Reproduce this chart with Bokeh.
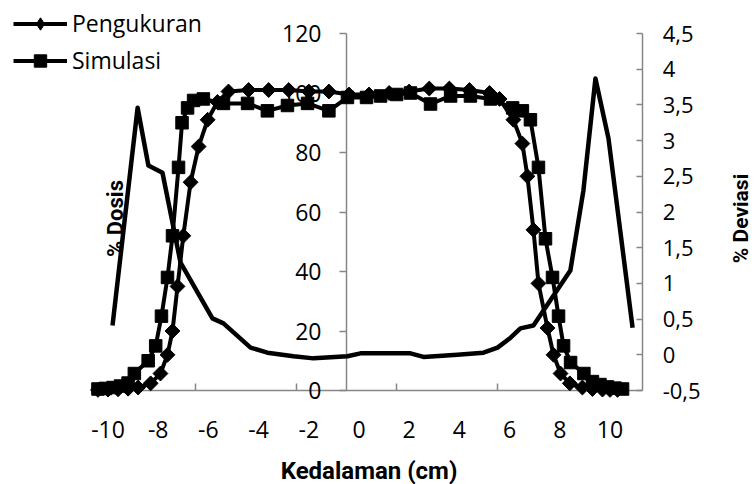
import math
from bokeh.plotting import figure
from bokeh.models import Range1d, LinearAxis, FixedTicker, Legend, LegendItem, Label
from bokeh.embed import file_html
from bokeh.resources import INLINE

# ---- data ----
peng_x = [-10.4, -10.0, -9.6, -9.2, -8.8, -8.3, -7.91, -7.63, -7.43, -7.23, -7.0, -6.71, -6.39,
          -6.03, -5.64, -5.2, -4.4, -3.6, -2.8, -2.0, -1.2, -0.4, 0.4, 1.2, 2.0, 2.8, 3.6, 4.4,
          5.2, 5.6, 6.15, 6.51, 6.71, 6.95, 7.15, 7.51, 7.75, 8.03, 8.4, 8.9, 9.3, 9.7, 10.0, 10.3]
peng_y = [0.2, 0.3, 0.4, 0.6, 1.0, 2.4, 5.7, 12, 20, 35, 52, 70, 82,
          91, 97, 100.5, 101, 101, 101, 100.5, 100.5, 99.5, 99.5, 100, 100.5, 101.5, 101.5, 101,
          100, 98, 91, 83, 72, 54, 36, 21, 12, 5.7, 2.4, 1.0, 0.5, 0.3, 0.2, 0.2]

sim_x = [-10.4, -10.1, -9.8, -9.5, -9.2, -8.95, -8.4, -8.1, -7.87, -7.63, -7.43, -7.19, -7.05,
         -6.83, -6.59, -6.2, -5.4, -4.44, -3.65, -2.85, -2.05, -1.2, -0.46, 0.3, 0.86, 1.5, 2.05,
         2.85, 3.65, 4.44, 5.24, 6.12, 6.51, 6.83, 7.15, 7.43, 7.71, 7.95, 8.15, 8.43, 8.96, 9.3,
         9.6, 9.9, 10.2, 10.5]
sim_y = [0.5, 0.7, 1.0, 1.5, 2.5, 5.7, 10, 15, 25, 38, 52, 75, 90,
         95, 97.5, 98, 96.5, 96.5, 94, 95.8, 96.5, 94, 98.5, 98.5, 99, 99.5, 100,
         96.3, 99, 99, 98, 95, 94, 91, 75, 51, 38, 25, 15, 9.4, 5.7, 3,
         2, 1.2, 0.8, 0.5]

dev_x = [-9.82, -8.82, -8.39, -7.83, -7.11, -5.84, -5.40, -4.32, -3.65, -2.61, -1.81, -0.46, 0.06,
         2.05, 2.57, 3.92, 4.96, 5.52, 6.04, 6.43, 6.95, 8.42, 8.94, 9.42, 9.94, 10.90]
dev_y = [0.41, 3.46, 2.65, 2.55, 1.29, 0.51, 0.44, 0.10, 0.03, -0.02, -0.05, -0.02, 0.02,
         0.02, -0.03, 0.00, 0.03, 0.10, 0.24, 0.37, 0.41, 1.18, 2.30, 3.87, 3.03, 0.38]

x_ticks = [-10, -8, -6, -4, -2, 0, 2, 4, 6, 8, 10]
x_tick_labels = ["-10", "-8", "-6", "-4", "-2", "0", "2", "4", "6", "8", "10"]
x_tick_marks = [-10.5, -6.5, -2.5, 1.5, 5.5, 9.5]
dose_ticks = [0, 20, 40, 60, 80, 100, 120]
dev_ticks = [-0.5, 0, 0.5, 1, 1.5, 2, 2.5, 3, 3.5, 4, 4.5]
dev_tick_labels = ["-0,5", "0", "0,5", "1", "1,5", "2", "2,5", "3", "3,5", "4", "4,5"]

series_names = ["Pengukuran", "Simulasi"]
x_title = "Kedalaman (cm)"
dose_title = "% Dosis"
dev_title = "% Deviasi"

# ---- layout: the frame fills the whole canvas, axes are placed at fixed locations ----
W, H = 755, 484
PX0, SX = 358.5, 25.1          # pixel of x=0, pixels per cm
PY0, SY = 390.0, 2.975         # pixel of dose 0, pixels per %
PD0, SD = 354.3, 71.4          # pixel of deviation 0, pixels per unit
X_AXIS_LEFT, X_AXIS_RIGHT = -10.5, 11.3
Y_CROSS = -0.5

AX = "#868686"
FONT = "Open Sans"
TFONT = "Roboto"
FS = "23px"

p = figure(width=W, height=H, output_backend="svg", toolbar_location=None,
           x_range=Range1d(-PX0 / SX, (W - PX0) / SX),
           y_range=Range1d(-(H - PY0) / SY, PY0 / SY),
           x_axis_location=None, y_axis_location=None,
           min_border_left=0, min_border_right=0, min_border_top=0, min_border_bottom=0)
p.grid.visible = False
p.outline_line_color = None
p.background_fill_color = "white"
p.border_fill_color = "white"
p.extra_y_ranges = {"dev": Range1d(-(H - PD0) / SD, PD0 / SD)}

# left (dose) axis crossing the x axis at -0.5
ax_left = LinearAxis(fixed_location=Y_CROSS, ticker=FixedTicker(ticks=dose_ticks), bounds=(0, 120),
                     major_tick_out=7, major_tick_in=0, minor_tick_out=0, minor_tick_in=0,
                     axis_line_color=AX, axis_line_width=1.5, major_tick_line_color=AX,
                     major_tick_line_width=1.5,
                     major_label_text_font=FONT, major_label_text_font_size=FS,
                     major_label_text_color="black", major_label_standoff=18)
ax_left.level = "underlay"
p.add_layout(ax_left, "left")

# x axis
ax_x = LinearAxis(fixed_location=0, ticker=FixedTicker(ticks=x_ticks, minor_ticks=x_tick_marks),
                  bounds=(X_AXIS_LEFT, X_AXIS_RIGHT),
                  major_label_overrides={t: l for t, l in zip(x_ticks, x_tick_labels)},
                  major_tick_in=0, major_tick_out=0, minor_tick_in=7, minor_tick_out=0,
                  axis_line_color=AX, axis_line_width=1.5, minor_tick_line_color=AX,
                  minor_tick_line_width=1.5,
                  major_label_text_font=FONT, major_label_text_font_size=FS,
                  major_label_text_color="black", major_label_standoff=30,
                  axis_label=x_title, axis_label_text_font=TFONT,
                  axis_label_text_font_style="bold", axis_label_text_font_size="24px",
                  axis_label_text_color="black", axis_label_standoff=16)
ax_x.level = "underlay"
p.add_layout(ax_x, "below")

# right (deviation) axis
ax_r = LinearAxis(y_range_name="dev", fixed_location=X_AXIS_RIGHT,
                  ticker=FixedTicker(ticks=dev_ticks), bounds=(-0.5, 4.5),
                  major_label_overrides={t: l for t, l in zip(dev_ticks, dev_tick_labels)},
                  major_tick_in=6, major_tick_out=0, minor_tick_in=0, minor_tick_out=0,
                  axis_line_color=AX, axis_line_width=1.5, major_tick_line_color=AX,
                  major_tick_line_width=1.5,
                  major_label_text_font=FONT, major_label_text_font_size="22px",
                  major_label_text_color="black", major_label_standoff=20)
p.add_layout(ax_r, "right")

# axis titles placed like the reference
p.add_layout(Label(x=115, y=H - 218, x_units="screen", y_units="screen", text=dose_title,
                   angle=math.pi / 2, text_align="center", text_baseline="middle",
                   text_font=TFONT, text_font_style="bold", text_font_size="22px",
                   text_color="black", level="underlay"))
p.add_layout(Label(x=740, y=H - 218, x_units="screen", y_units="screen", text=dev_title,
                   angle=math.pi / 2, text_align="center", text_baseline="middle",
                   text_font=TFONT, text_font_style="bold", text_font_size="21px",
                   text_color="black"))

# ---- glyphs ----
p.line(dev_x, dev_y, y_range_name="dev", line_color="black", line_width=4.5, line_join="round")

l1 = p.line(peng_x, peng_y, line_color="black", line_width=4)
m1 = p.scatter(peng_x, peng_y, marker="square", angle=math.pi / 4, size=10.5,
               fill_color="black", line_color="black")
# same points as a plain diamond, used only for the legend key
m1_key = p.scatter(peng_x, peng_y, marker="diamond", size=14,
                   fill_color="black", line_color="black", visible=False)
l2 = p.line(sim_x, sim_y, line_color="black", line_width=4)
m2 = p.scatter(sim_x, sim_y, marker="square", size=12.5, fill_color="black", line_color="black")

legend = Legend(items=[LegendItem(label=series_names[0], renderers=[l1, m1_key]),
                       LegendItem(label=series_names[1], renderers=[l2, m2])],
                location=(13, H - 76), orientation="vertical",
                glyph_width=54, glyph_height=31, spacing=5, padding=0, margin=0,
                label_standoff=5, label_text_font=FONT, label_text_font_size=FS,
                label_text_color="black", border_line_color=None, background_fill_alpha=0)
p.add_layout(legend, "center")

open("out.html", "w").write(file_html(p, INLINE))
